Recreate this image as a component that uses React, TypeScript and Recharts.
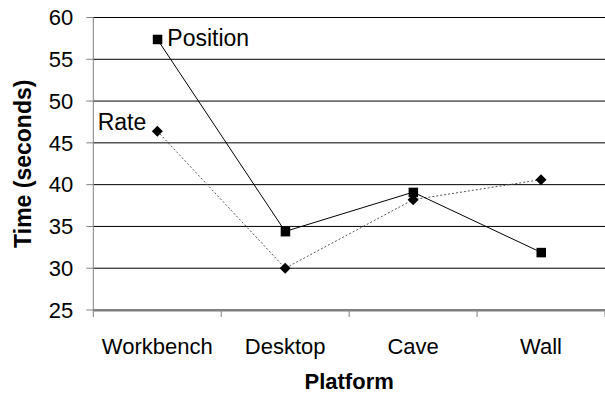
import { LineChart, Line, XAxis, YAxis, CartesianGrid, LabelList } from 'recharts';

const platforms = ['Workbench', 'Desktop', 'Cave', 'Wall'];
const positionTimes = [57.4, 34.4, 39.1, 31.9];
const rateTimes = [46.4, 30.0, 38.2, 40.6];
const yTicks = [25, 30, 35, 40, 45, 50, 55, 60];
// category edges on a 0..3 scale spanning the plot width
const categoryBounds = [0, 0.75, 1.5, 2.25, 3];

const data = platforms.map((name, i) => ({
  name,
  position: positionTimes[i],
  rate: rateTimes[i],
}));

const FONT = '"Liberation Sans", Arial, sans-serif';

function SquareDot(props: any) {
  const { cx, cy } = props;
  if (cx == null || cy == null) return null;
  return <rect x={cx - 4.5} y={cy - 4.5} width={9.5} height={9.5} fill="#000" />;
}

function DiamondDot(props: any) {
  const { cx, cy } = props;
  if (cx == null || cy == null) return null;
  const r = 5.5;
  return <path d={`M${cx},${cy - r}L${cx + r},${cy}L${cx},${cy + r}L${cx - r},${cy}Z`} fill="#000" />;
}

// series name printed beside the first point only
function seriesLabel(text: string, side: 'left' | 'right', dy: number) {
  return (props: any) => {
    const { x, y, index } = props;
    if (index !== 0) return null;
    return (
      <text
        x={side === 'right' ? x + 10 : x - 11}
        y={y + dy}
        textAnchor={side === 'right' ? 'start' : 'end'}
        dominantBaseline="central"
        fontFamily={FONT}
        fontSize={23}
        fill="#000"
      >
        {text}
      </text>
    );
  };
}

const noTickText = () => <g />;

export default function App() {
  return (
    <div style={{ position: 'absolute', left: 0, top: 0, background: '#fff' }}>
      <LineChart width={605} height={393} data={data} margin={{ top: 17.5, right: 0, left: 0, bottom: 0 }}>
        <CartesianGrid vertical={false} xAxisId="names" stroke="#000" strokeWidth={1} />
        {/* tick marks between categories */}
        <XAxis
          xAxisId="bounds"
          type="number"
          domain={[0, 3]}
          allowDataOverflow
          ticks={categoryBounds}
          interval={0}
          orientation="bottom"
          height={1}
          axisLine={false}
          tick={noTickText}
          tickSize={7}
          tickLine={{ stroke: '#808080' }}
        />
        <XAxis
          xAxisId="names"
          dataKey="name"
          height={82}
          padding={{ left: 64, right: 64 }}
          axisLine={{ stroke: '#808080' }}
          tickLine={false}
          tickSize={0}
          tickMargin={27}
          tick={{ fontFamily: FONT, fontSize: 22, fill: '#000' }}
          label={{ value: 'Platform', position: 'insideBottom', offset: 4, fontFamily: FONT, fontSize: 22, fontWeight: 'bold', fill: '#000' }}
        />
        <YAxis
          width={93.3}
          domain={[25, 60]}
          ticks={yTicks}
          interval={0}
          axisLine={{ stroke: '#808080' }}
          tickLine={{ stroke: '#808080' }}
          tickSize={7}
          tickMargin={13}
          tick={{ fontFamily: FONT, fontSize: 22, fill: '#000' }}
          label={{ value: 'Time (seconds)', angle: -90, position: 'insideLeft', offset: 23, style: { textAnchor: 'middle' }, fontFamily: FONT, fontSize: 23, fontWeight: 'bold', fill: '#000' }}
        />
        <Line
          xAxisId="names"
          dataKey="rate"
          stroke="#555"
          strokeWidth={1}
          strokeDasharray="2 2"
          dot={<DiamondDot />}
          isAnimationActive={false}
        >
          <LabelList dataKey="rate" content={seriesLabel('Rate', 'left', -9)} />
        </Line>
        <Line
          xAxisId="names"
          dataKey="position"
          stroke="#000"
          strokeWidth={1}
          dot={<SquareDot />}
          isAnimationActive={false}
        >
          <LabelList dataKey="position" content={seriesLabel('Position', 'right', -1)} />
        </Line>
      </LineChart>
    </div>
  );
}
